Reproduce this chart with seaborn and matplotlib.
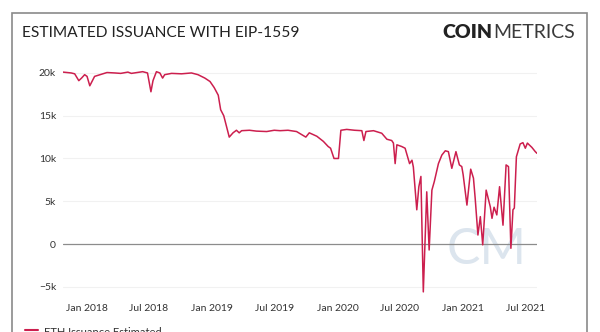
import matplotlib
matplotlib.use("Agg")
import matplotlib.pyplot as plt
from matplotlib.patches import Rectangle
import pandas as pd
import seaborn as sns

dates = [
    "2017-10-24", "2017-11-17", "2017-11-27", "2017-12-09", "2017-12-17", "2017-12-26",
    "2018-01-02", "2018-01-10", "2018-01-24", "2018-02-13", "2018-03-01", "2018-03-24",
    "2018-04-10", "2018-05-01", "2018-05-11", "2018-06-13", "2018-06-27", "2018-07-07",
    "2018-07-13", "2018-07-23", "2018-08-02", "2018-08-10", "2018-08-16", "2018-09-05",
    "2018-10-04", "2018-11-02", "2018-11-21", "2018-12-11", "2018-12-26", "2019-01-07",
    "2019-01-19", "2019-01-26", "2019-02-04", "2019-02-20", "2019-03-03", "2019-03-13",
    "2019-03-21", "2019-03-28", "2019-04-20", "2019-05-10", "2019-06-09", "2019-07-01",
    "2019-07-18", "2019-08-10", "2019-09-04", "2019-10-01", "2019-10-11", "2019-11-02",
    "2019-11-21", "2019-12-05", "2019-12-12", "2019-12-22", "2020-01-04", "2020-01-11",
    "2020-01-28", "2020-02-20", "2020-03-12", "2020-03-18", "2020-03-24", "2020-04-15",
    "2020-05-09", "2020-05-24", "2020-06-07", "2020-06-12", "2020-06-17", "2020-06-22",
    "2020-07-06", "2020-07-16", "2020-07-29", "2020-08-05", "2020-08-09", "2020-08-19",
    "2020-08-25", "2020-08-31", "2020-09-07", "2020-09-17", "2020-09-24", "2020-10-02",
    "2020-10-09", "2020-10-21", "2020-10-31", "2020-11-10", "2020-11-19", "2020-11-29",
    "2020-12-11", "2020-12-21", "2020-12-28", "2021-01-01", "2021-01-12", "2021-01-23",
    "2021-01-31", "2021-02-05", "2021-02-13", "2021-02-20", "2021-02-27", "2021-03-09",
    "2021-03-21", "2021-03-26", "2021-04-01", "2021-04-09", "2021-04-17", "2021-04-27",
    "2021-05-06", "2021-05-13", "2021-05-20", "2021-05-26", "2021-05-30", "2021-06-05",
    "2021-06-16", "2021-06-24", "2021-07-01", "2021-07-07", "2021-07-20", "2021-07-30",
    "2021-08-04",
]
issuance = [
    20100, 20000, 19900, 19100, 19400, 19800,
    19600, 18500, 19600, 19850, 20050, 20000,
    19950, 20100, 19950, 20150, 20000, 17800,
    19100, 20150, 20000, 19400, 19800, 19950,
    19900, 20000, 19800, 19400, 19000, 18300,
    17400, 15700, 15000, 12500, 13000, 13300,
    13000, 13250, 13300, 13200, 13150, 13300,
    13250, 13300, 13150, 12500, 13000, 12600,
    12000, 11400, 11200, 10000, 10000, 13300,
    13400, 13300, 13250, 12100, 13150, 13250,
    12950, 12250, 12100, 11800, 9400, 11600,
    11400, 11200, 9400, 9800, 9000, 4000,
    6700, 7900, -5600, 6100, -700, 6300,
    7300, 9400, 10400, 10900, 10800, 8850,
    10800, 9250, 9050, 8100, 4550, 8750,
    7700, 5350, 1050, 3200, -100, 6300,
    4350, 3000, 4300, 3400, 6700, 2200,
    9250, 9050, -500, 4000, 4200, 10200,
    11700, 11850, 11200, 11800, 11300, 10800,
    10600,
]

y_ticks = [-5000, 0, 5000, 10000, 15000, 20000]
y_tick_labels = ["\u22125k", "0", "5k", "10k", "15k", "20k"]
x_ticks = ["2018-01-01", "2018-07-01", "2019-01-01", "2019-07-01",
           "2020-01-01", "2020-07-01", "2021-01-01", "2021-07-01"]
x_tick_labels = ["Jan 2018", "Jul 2018", "Jan 2019", "Jul 2019",
                 "Jan 2020", "Jul 2020", "Jan 2021", "Jul 2021"]

title = "ESTIMATED ISSUANCE WITH EIP-1559"
series_name = "ETH Issuance Estimated"

df = pd.DataFrame({"date": pd.to_datetime(dates), "value": issuance})

sns.set_theme(style="white")
plt.rcParams["font.family"] = ["Lato", "DejaVu Sans"]

fig = plt.figure(figsize=(6.0, 3.32), dpi=100)
ax = fig.add_axes([0.105, 0.1105, 0.79, 0.6955])

# frame
fig.patches.append(Rectangle((12 / 600, -0.2), 575 / 600, 1.2 - 13 / 332,
                             transform=fig.transFigure, fill=False,
                             edgecolor="#8a8a8a", linewidth=1.2))

for t in y_ticks:
    if t != 0:
        ax.axhline(t, color="#f1f1f1", linewidth=0.8, zorder=0)
ax.axhline(0, color="#8c8c8c", linewidth=0.9, zorder=1)

# watermark
ax.text(pd.Timestamp("2021-03-10"), -700, "CM", fontsize=36, color="#dce5ee",
        ha="center", va="center", fontweight="normal", zorder=0)

sns.lineplot(data=df, x="date", y="value", ax=ax, color="#cc1f4e",
             linewidth=1.1, zorder=3, legend=False)

ax.set_xlim(df["date"].min(), df["date"].max())
ax.set_ylim(-6000, 21000)
ax.set_yticks(y_ticks)
ax.set_yticklabels(y_tick_labels)
ax.set_xticks(pd.to_datetime(x_ticks))
ax.set_xticklabels(x_tick_labels)
ax.tick_params(axis="both", length=0, labelsize=7.5, colors="#333333")
ax.tick_params(axis="y", pad=5)
ax.tick_params(axis="x", pad=6)
ax.set_xlabel("")
ax.set_ylabel("")
for s in ax.spines.values():
    s.set_visible(False)
ax.set_facecolor("none")

fig.text(22 / 600, 1 - 33 / 332, title, fontsize=11.2, color="#222222",
         ha="left", va="center")

# logo: COIN (bold) + METRICS (regular), right edge at x=575
renderer = fig.canvas.get_renderer()
t2 = fig.text(575 / 600, 1 - 33 / 332, "METRICS", fontsize=14, fontweight="normal",
              color="#3a3a3a", ha="right", va="center")
w2 = t2.get_window_extent(renderer).width
fig.text((575 - w2 - 1) / 600, 1 - 33 / 332, "COIN", fontsize=14, fontweight="heavy",
         color="#222222", ha="right", va="center")

# legend (cut off at the bottom edge, as in the source)
fig.lines.append(plt.Line2D([25 / 600, 38 / 600], [1 - 330 / 332] * 2,
                            transform=fig.transFigure, color="#cc1f4e", linewidth=1.5))
fig.text(44 / 600, 1 - 327 / 332, series_name, fontsize=8, color="#333333",
         ha="left", va="top")

fig.savefig("out.png", dpi=100)
